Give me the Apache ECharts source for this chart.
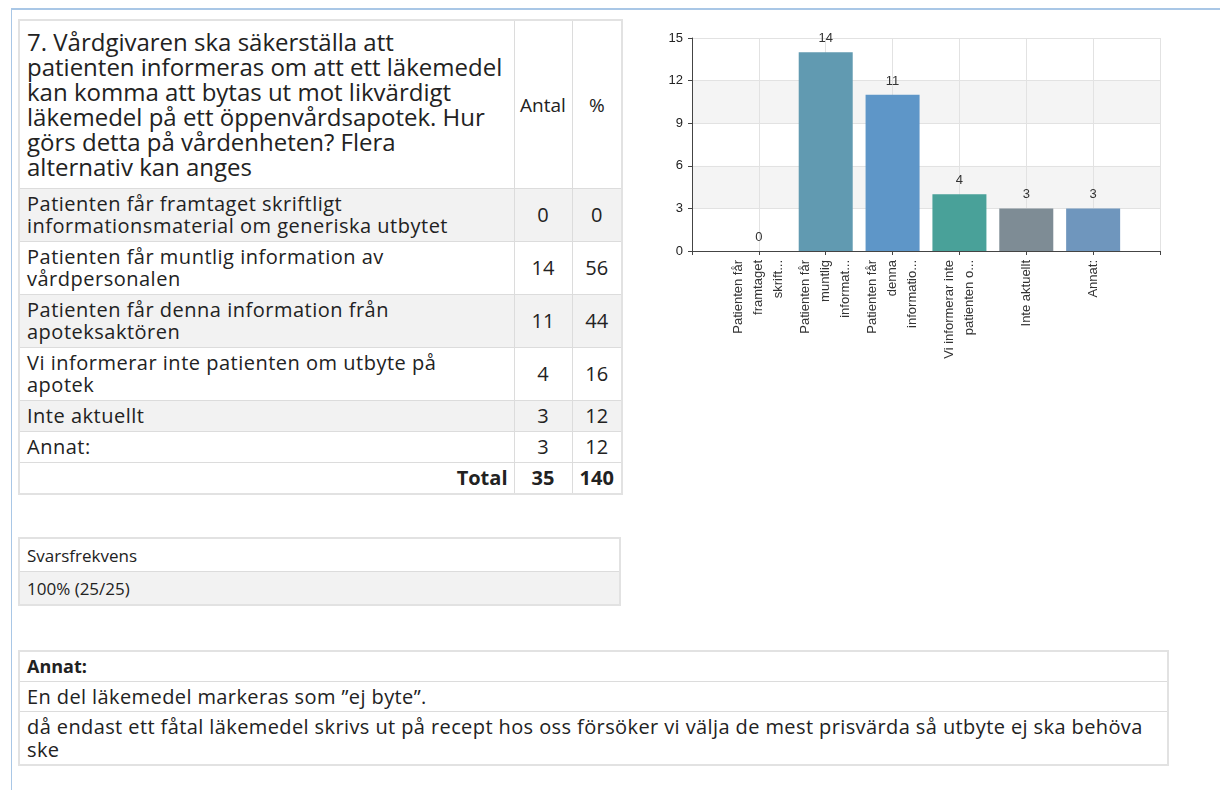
<!DOCTYPE html>
<html>
<head>
<meta charset="utf-8">
<title>Fråga 7</title>
<script src="https://cdn.jsdelivr.net/npm/echarts@6/dist/echarts.min.js"></script>
<style>
  body { margin: 0; width: 1220px; height: 790px; overflow: hidden; background: #fff; position: relative;
         font-family: 'Open Sans', sans-serif; color: #222; }
  .frame { position: absolute; left: 11px; top: 8px; right: 0; bottom: 0;
           border-top: 2px solid #a9c7e6; border-left: 1px solid #a9c7e6; }
  table { position: absolute; border-collapse: collapse; border: 2px solid #e2e2e2; table-layout: fixed; }
  td, th { border: 1px solid #dcdcdc; font-weight: normal; }
  .main { left: 18px; top: 19px; width: 603px; font-size: 20px; line-height: 22px; }
  .main th.q { text-align: left; font-size: 24px; line-height: 25px; padding: 8px 6px 9px 7px; }
  .main th.c { text-align: center; font-size: 19px; padding: 0; }
  .main td { padding: 4px 6px 4px 7px; }
  .main td.t { letter-spacing: 0.5px; }
  .main td.n { text-align: center; padding: 4px 0; }
  .main tr.alt td { background: #f2f2f2; }
  .main tr.tot td { font-weight: bold; }
  .main tr.tot td.lbl { text-align: right; padding-right: 6px; }
  .small { font-size: 17px; line-height: 23px; }
  .small td { padding: 5px 7px 4px 7px; }
  .small tr.alt td { background: #f2f2f2; }
  .resp { left: 18px; top: 537px; width: 603px; }
  .other { left: 18px; top: 650px; width: 1151px; font-size: 20px; line-height: 23px; }
  .other td { padding: 3px 7px 3px 7px; letter-spacing: 0.4px; }
  .other td.h { font-weight: bold; font-size: 18px; letter-spacing: 0; }
  #chart { position: absolute; left: 630px; top: 20px; width: 560px; height: 380px; }
</style>
</head>
<body>
<div class="frame"></div>
<table class="main" id="mainTable"></table>
<table class="small resp" id="respTable"></table>
<table class="other" id="otherTable"></table>
<div id="chart"></div>
<script>
// question text, as it is broken in the report
const questionLines = [
  '7. Vårdgivaren ska säkerställa att',
  'patienten informeras om att ett läkemedel',
  'kan komma att bytas ut mot likvärdigt',
  'läkemedel på ett öppenvårdsapotek. Hur',
  'görs detta på vårdenheten? Flera',
  'alternativ kan anges'
];
const answers = [
  'Patienten får framtaget skriftligt informationsmaterial om generiska utbytet',
  'Patienten får muntlig information av vårdpersonalen',
  'Patienten får denna information från apoteksaktören',
  'Vi informerar inte patienten om utbyte på apotek',
  'Inte aktuellt',
  'Annat:'
];
const tickLabels = [
  'Patienten får\nframtaget\nskrift...',
  'Patienten får\nmuntlig\ninformat...',
  'Patienten får\ndenna\ninformatio...',
  'Vi informerar inte\npatienten o...',
  'Inte aktuellt',
  'Annat:'
];
const counts = [0, 14, 11, 4, 3, 3];
const percents = [0, 56, 44, 16, 12, 12];
const totalCount = 35;
const totalPercent = 140;
const responseRate = '100% (25/25)';
const otherAnswers = [
  'En del läkemedel markeras som ”ej byte”.',
  'då endast ett fåtal läkemedel skrivs ut på recept hos oss försöker vi välja de mest prisvärda så utbyte ej ska behöva ske'
];
const yMax = 15;
const yStep = 3;

const barColors = ['#6a9fc0', '#619ab1', '#5e96c8', '#49a199', '#7e8c95', '#6f96bd'];

// tables
let html = '<colgroup><col style="width:495px"><col style="width:58px"><col style="width:50px"></colgroup>';
html += '<tr style="height:167px"><th class="q">' + questionLines.join('<br>') + '</th><th class="c">Antal</th><th class="c">%</th></tr>';
answers.forEach((a, i) => {
  html += '<tr class="' + (i % 2 === 0 ? 'alt' : '') + '"><td class="t">' + a + '</td><td class="n">' + counts[i] + '</td><td class="n">' + percents[i] + '</td></tr>';
});
html += '<tr class="tot"><td class="lbl">Total</td><td class="n">' + totalCount + '</td><td class="n">' + totalPercent + '</td></tr>';
document.getElementById('mainTable').innerHTML = html;

document.getElementById('respTable').innerHTML =
  '<tr><td>Svarsfrekvens</td></tr><tr class="alt"><td>' + responseRate + '</td></tr>';

let oh = '<tr><td class="h">Annat:</td></tr>';
otherAnswers.forEach((t, i) => {
  oh += '<tr class="' + (i % 2 === 0 ? 'alt' : '') + '"><td>' + t + '</td></tr>';
});
document.getElementById('otherTable').innerHTML = oh;

// chart: empty slot at each end so ticks sit on bar centres like the original
const axisData = [''].concat(tickLabels, ['']);
const barData = ['-'].concat(counts.map((v, i) => ({ value: v, itemStyle: { color: barColors[i] } })), ['-']);

const myChart = echarts.init(document.getElementById('chart'));
myChart.setOption({
  animation: false,
  textStyle: { fontFamily: 'Liberation Sans, Arial, sans-serif' },
  grid: { left: 62, top: 18, width: 468, height: 213, containLabel: false },
  xAxis: {
    type: 'category',
    data: axisData,
    boundaryGap: false,
    axisLine: { lineStyle: { color: '#444' } },
    axisTick: { show: true, interval: 0, length: 4, lineStyle: { color: '#444' } },
    axisLabel: { interval: 0, rotate: 90, fontSize: 13, lineHeight: 20, color: '#333', margin: 9 },
    splitLine: { show: true, interval: 0, lineStyle: { color: '#e2e2e2' } }
  },
  yAxis: {
    type: 'value',
    min: 0,
    max: yMax,
    interval: yStep,
    axisLine: { show: true, lineStyle: { color: '#444' } },
    axisTick: { show: true, length: 4, lineStyle: { color: '#444' } },
    axisLabel: { fontSize: 13, color: '#222', margin: 9 },
    splitLine: { show: true, lineStyle: { color: '#e2e2e2' } },
    splitArea: { show: true, areaStyle: { color: ['#ffffff', '#f4f4f4'] } }
  },
  series: [{
    type: 'bar',
    data: barData,
    barWidth: 54,
    label: { show: true, position: 'top', distance: 7, fontSize: 13, color: '#333' }
  }]
});
</script>
</body>
</html>
